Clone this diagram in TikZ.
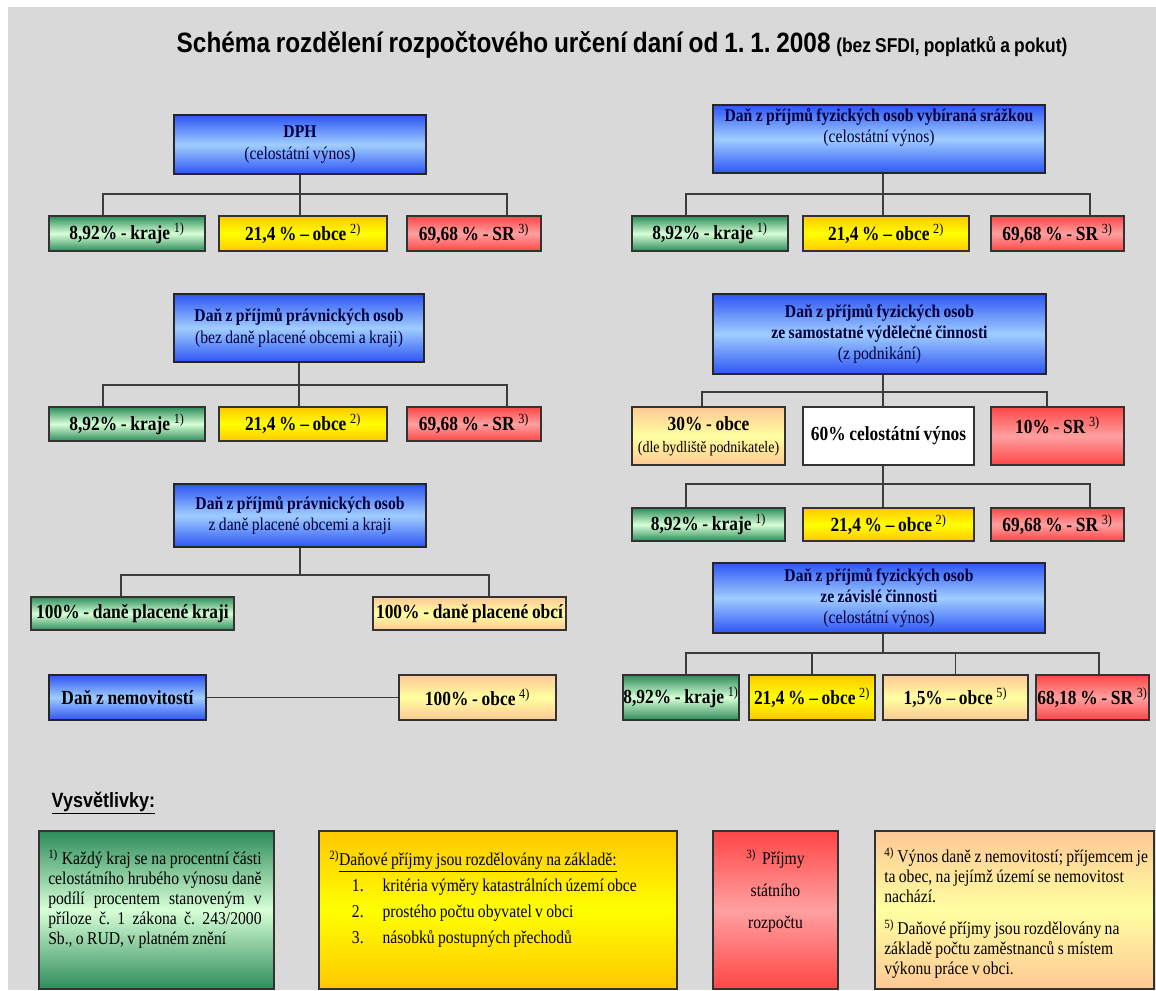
\documentclass[tikz,border=0pt]{standalone}
\usepackage{fontspec}
\setmainfont{Liberation Serif}
\newfontfamily\boxfont{Liberation Serif}[FakeStretch=0.87, WordSpace=0.85]
\newfontfamily\headfont{Liberation Sans}[FakeStretch=0.87, WordSpace=0.85]
\usepackage{xcolor}
\usepackage{tikz}

\definecolor{bggrey}{RGB}{217,217,217}
\definecolor{blueedge}{RGB}{45,85,245}
\definecolor{bluemid}{RGB}{160,205,255}
\definecolor{greenedge}{RGB}{45,140,90}
\definecolor{greenmid}{RGB}{215,255,215}
\definecolor{goldedge}{RGB}{255,200,0}
\definecolor{goldmid}{RGB}{255,255,0}
\definecolor{rededge}{RGB}{255,70,70}
\definecolor{redmid}{RGB}{255,160,160}
\definecolor{peachedge}{RGB}{255,200,150}
\definecolor{peachmid}{RGB}{255,255,160}
\definecolor{linegrey}{RGB}{60,60,60}
\definecolor{navytext}{RGB}{0,0,60}

\begin{document}
\begin{tikzpicture}[
  x=0.75pt, y=-0.75pt,
  greenfill/.style={top color=greenedge, bottom color=greenedge, middle color=greenmid},
  goldfill/.style={top color=goldedge, bottom color=goldedge, middle color=goldmid},
  redfill/.style={top color=rededge, bottom color=rededge, middle color=redmid},
  peachfill/.style={top color=peachedge, bottom color=peachedge, middle color=peachmid},
  tax/.style={draw=black!85, line width=1.2pt, top color=blueedge, bottom color=blueedge, middle color=bluemid,
    align=center, inner sep=0pt, text=navytext, font=\boxfont\fontsize{13.5pt}{16pt}\selectfont},
  share/.style={draw=black!80, line width=0.8pt, align=center, inner sep=0pt,
    font=\boxfont\bfseries\fontsize{15pt}{16.5pt}\selectfont},
  kraj/.style={share, greenfill},
  obec/.style={share, goldfill},
  stat/.style={share, redfill},
  obecb/.style={share, peachfill},
  conn/.style={draw=linegrey, line width=0.9pt},
  legbox/.style={draw=black!80, line width=0.8pt, inner sep=0pt, minimum height=118.5pt},
  legtext/.style={anchor=north west, inner sep=0pt, align=flush left, font=\boxfont\fontsize{13.5pt}{15pt}\selectfont}
]

% Page
\useasboundingbox (0,0) rectangle (1156,990);
\fill[white] (0,0) rectangle (1156,990);
\fill[bggrey] (8,7) rectangle (1156,990);

\node[anchor=base west, font=\headfont\bfseries\fontsize{21pt}{24pt}\selectfont] (title) at (172,52)
  {Schéma rozdělení rozpočtového určení daní od 1.~1.~2008 {\fontsize{15pt}{18pt}\selectfont (bez SFDI, poplatků a pokut)}};

% DPH
\node[tax, minimum width=189pt, minimum height=44.25pt] (dph) at (300,144.5) {{\bfseries DPH}\\(celostátní výnos)};
\node[kraj, minimum width=117pt, minimum height=26.25pt] (k1) at (127,233.5) {8,92\% - kraje \textsuperscript{\mdseries 1)}};
\node[obec, minimum width=126pt, minimum height=26.25pt] (o1) at (303,233.5) {21,4 \% – obce \textsuperscript{\mdseries 2)}};
\node[stat, minimum width=100.5pt, minimum height=26.25pt] (sr1) at (474,233.5) {69,68 \% - SR \textsuperscript{\mdseries 3)}};

% DPPO
\node[tax, minimum width=187.5pt, minimum height=51pt] (ppo1) at (299,328) {{\bfseries Daň z příjmů právnických osob}\\(bez daně placené obcemi a kraji)};
\node[kraj, minimum width=117pt, minimum height=25.5pt] (k2) at (127,424) {8,92\% - kraje \textsuperscript{\mdseries 1)}};
\node[obec, minimum width=126pt, minimum height=25.5pt] (o2) at (303,424) {21,4 \% – obce \textsuperscript{\mdseries 2)}};
\node[stat, minimum width=100.5pt, minimum height=25.5pt] (sr2) at (474,424) {69,68 \% - SR \textsuperscript{\mdseries 3)}};

\node[tax, minimum width=189pt, minimum height=47.25pt] (ppo2) at (300,515.5) {{\bfseries Daň z příjmů právnických osob}\\z daně placené obcemi a kraji};
\node[kraj, minimum width=152.25pt, minimum height=24.75pt] (kr3) at (132.5,613.5) {100\% - daně placené kraji};
\node[obecb, minimum width=144.75pt, minimum height=24.75pt] (ob3) at (469.5,613.5) {100\% - daně placené obcí};

% Dan z nemovitosti
\node[tax, text=black, font=\boxfont\bfseries\fontsize{15pt}{16.5pt}\selectfont, minimum width=117.75pt, minimum height=33.75pt] (nem) at (127.5,697.5) {Daň z nemovitostí};
\node[obecb, minimum width=117.75pt, minimum height=33.75pt] (ob4) at (477.5,697.5) {100\% - obce \textsuperscript{\mdseries 4)}};

% DPFO srazkou
\node[tax, minimum width=249pt, minimum height=51pt] (fos1) at (879,139) {{\bfseries Daň z příjmů fyzických osob vybíraná srážkou}\\(celostátní výnos)\\[4pt]};
\node[kraj, minimum width=117pt, minimum height=26.25pt] (k5) at (710,233.5) {8,92\% - kraje \textsuperscript{\mdseries 1)}};
\node[obec, minimum width=124.5pt, minimum height=26.25pt] (o5) at (886,233.5) {21,4 \% – obce \textsuperscript{\mdseries 2)}};
\node[stat, minimum width=99.75pt, minimum height=26.25pt] (sr5) at (1057.5,233.5) {69,68 \% - SR \textsuperscript{\mdseries 3)}};

% DPFO podnikani
\node[tax, minimum width=249.75pt, minimum height=60pt] (fos2) at (879.5,334) {{\bfseries Daň z příjmů fyzických osob}\\{\bfseries ze samostatné výdělečné činnosti}\\(z podnikání)};
\node[obecb, minimum width=114.75pt, minimum height=43.5pt] (ob6) at (708.5,436) {30\% - obce\\{\mdseries\fontsize{12pt}{14pt}\selectfont(dle bydliště podnikatele)}};
\node[share, fill=white, minimum width=128.25pt, minimum height=43.5pt] (cel) at (888.5,436) {60\% celostátní výnos};
\node[stat, minimum width=99.75pt, minimum height=43.5pt] (sr6) at (1057.5,436) {10\% - SR \textsuperscript{\mdseries 3)}\\};
\node[kraj, minimum width=114.75pt, minimum height=24.75pt] (k7) at (708.5,524.5) {8,92\% - kraje \textsuperscript{\mdseries 1)}};
\node[obec, minimum width=128.25pt, minimum height=24.75pt] (o7) at (888.5,524.5) {21,4 \% – obce \textsuperscript{\mdseries 2)}};
\node[stat, minimum width=99.75pt, minimum height=24.75pt] (sr7) at (1057.5,524.5) {69,68 \% - SR \textsuperscript{\mdseries 3)}};

% DPFO zavisla cinnost
\node[tax, minimum width=249pt, minimum height=52.5pt] (fos3) at (879,598) {{\bfseries Daň z příjmů fyzických osob}\\{\bfseries ze závislé činnosti}\\(celostátní výnos)};
\node[kraj, minimum width=87pt, minimum height=33.75pt] (k8) at (681,697.5) {8,92\% - kraje \textsuperscript{\mdseries 1)}};
\node[obec, minimum width=94.5pt, minimum height=33.75pt] (o8) at (812,697.5) {21,4 \% – obce \textsuperscript{\mdseries 2)}};
\node[obecb, minimum width=108.75pt, minimum height=33.75pt] (ob8) at (955.5,697.5) {1,5\% – obce \textsuperscript{\mdseries 5)}};
\node[stat, minimum width=84.75pt, minimum height=33.75pt] (sr8) at (1092.5,697.5) {68,18 \% - SR \textsuperscript{\mdseries 3)}};

% Connectors
\coordinate (b1l) at (103,194);
\coordinate (b1r) at (507,194);
\draw[conn] (dph.south) -- (dph.south |- o1.north);
\draw[conn] (k1.north -| b1l) -- (b1l) -- (b1r) -- (sr1.north -| b1r);

\coordinate (b2l) at (103,385);
\coordinate (b2r) at (507,385);
\draw[conn] (ppo1.south) -- (ppo1.south |- o2.north);
\draw[conn] (k2.north -| b2l) -- (b2l) -- (b2r) -- (sr2.north -| b2r);

\coordinate (b3l) at (121,575);
\coordinate (b3r) at (489,575);
\draw[conn] (ppo2.south) -- (ppo2.south |- b3l);
\draw[conn] (kr3.north -| b3l) -- (b3l) -- (b3r) -- (ob3.north -| b3r);

\draw[conn] (nem) -- (ob4);

\coordinate (b5l) at (686,194);
\coordinate (b5m) at (883,194);
\coordinate (b5r) at (1090,194);
\draw[conn] (fos1.south -| b5m) -- (o5.north -| b5m);
\draw[conn] (k5.north -| b5l) -- (b5l) -- (b5r) -- (sr5.north -| b5r);

\coordinate (b6l) at (702,392);
\coordinate (b6m) at (883,392);
\coordinate (b6r) at (1047,392);
\draw[conn] (fos2.south -| b6m) -- (cel.north -| b6m);
\draw[conn] (ob6.north -| b6l) -- (b6l) -- (b6r) -- (sr6.north -| b6r);

\coordinate (b7l) at (686,484);
\coordinate (b7m) at (883,484);
\coordinate (b7r) at (1090,484);
\draw[conn] (cel.south -| b7m) -- (o7.north -| b7m);
\draw[conn] (k7.north -| b7l) -- (b7l) -- (b7r) -- (sr7.north -| b7r);

\coordinate (b8l) at (686,653);
\coordinate (b8m) at (883,653);
\coordinate (b8r) at (1099,653);
\draw[conn] (fos3.south -| b8m) -- (b8m);
\draw[conn] (k8.north -| b8l) -- (b8l) -- (b8r) -- (sr8.north -| b8r);
\draw[conn] (o8.north) -- (o8.north |- b8l);
\draw[conn] (ob8.north) -- (ob8.north |- b8l);

% Legend
\node[anchor=base west, font=\headfont\bfseries\fontsize{15.5pt}{18pt}\selectfont] (vys) at (47,807) {\underline{Vysvětlivky:}};

\node[legbox, greenfill, minimum width=176.25pt] (leg1) at (156.5,910) {};
\node[legbox, goldfill, minimum width=268.5pt] (leg2) at (498,910) {};
\node[legbox, redfill, minimum width=93.75pt] (leg3) at (775.5,910) {};
\node[legbox, peachfill, minimum width=209.25pt] (leg4) at (1014.5,910) {};

\node[legtext, text width=160pt, align=justify] (leg1t) at (48,849)
  {\textsuperscript{1)} Každý kraj se na procentní části\linebreak celostátního hrubého výnosu daně\linebreak podílí procentem stanoveným v\linebreak příloze č.~1 zákona č.~243/2000\linebreak Sb., o RUD, v platném znění};
\node[legtext, text width=260pt] (leg2t) at (329,850)
  {\textsuperscript{2)}\underline{Daňové příjmy jsou rozdělovány na základě:}\\[4.5pt]
   \hspace*{17pt}\makebox[23pt][l]{1.}kritéria výměry katastrálních území obce\\[4.5pt]
   \hspace*{17pt}\makebox[23pt][l]{2.}prostého počtu obyvatel v obci\\[4.5pt]
   \hspace*{17pt}\makebox[23pt][l]{3.}násobků postupných přechodů};
\node[legtext, anchor=north, text width=90pt, align=center, font=\boxfont\fontsize{13.5pt}{24pt}\selectfont] (leg3t) at (775.5,849)
  {\textsuperscript{3)} Příjmy\\státního\\rozpočtu};
\node[legtext, text width=206pt] (leg4t) at (884,847)
  {\textsuperscript{4)} Výnos daně z nemovitostí; příjemcem je\\ta obec, na jejímž území se nemovitost\\nachází.\\[9pt]
   \textsuperscript{5)} Daňové příjmy jsou rozdělovány na\\základě počtu zaměstnanců s místem\\výkonu práce v obci.};

\end{tikzpicture}
\end{document}
